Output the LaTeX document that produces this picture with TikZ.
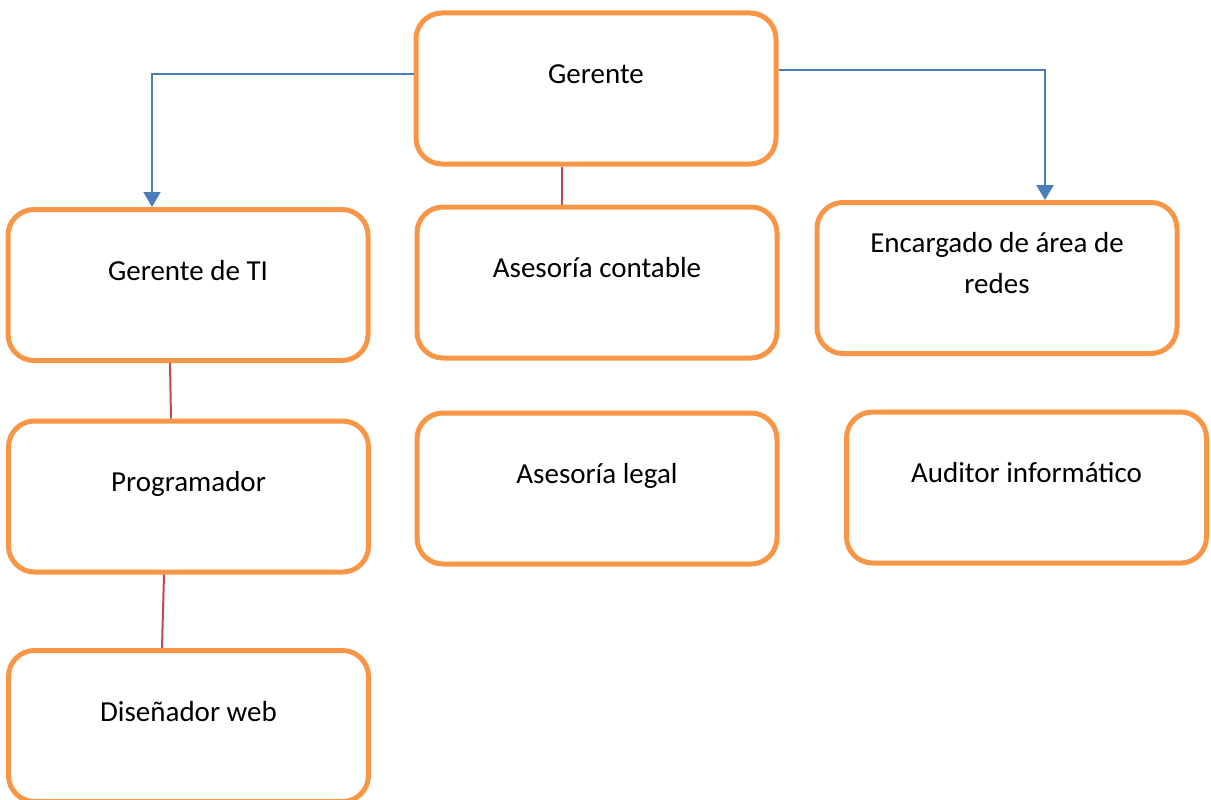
\documentclass[tikz,border=0pt]{standalone}
\usepackage{fontspec}
\setmainfont{Carlito}
\usetikzlibrary{arrows.meta, positioning}
\definecolor{boxorange}{HTML}{F79646}
\definecolor{linkblue}{HTML}{4A7EBB}
\definecolor{linkred}{HTML}{BE4B48}
\tikzset{
    puesto/.style={
        draw=boxorange, line width=5pt, rounded corners=26pt,
        minimum width=360pt, minimum height=151pt, inner sep=0pt
    },
    nombre/.style={font=\fontsize{29}{41}\selectfont, inner sep=0pt, align=center},
    bajaA/.style={draw=linkblue, line width=2pt, -{Triangle[width=17pt,length=15pt]}},
    unionR/.style={draw=linkred, line width=2pt}
}

\begin{document}
\begin{tikzpicture}[x=1pt, y=-1pt]
    \def \base {73}
    \useasboundingbox (0,0) rectangle (1211,800);
    % cajas
    \node[puesto] (ger) at (596, 88.5) {};
    \node[puesto] (gerTI) at (188, 285) {};
    \node[puesto] (asesCont) at (597, 282.5) {};
    \node[puesto] (encRedes) at (997, 278) {};
    \node[puesto] (prog) at (188.5, 496.5) {};
    \node[puesto] (asesLegal) at (597, 488.5) {};
    \node[puesto] (auditor) at (1026.5, 487.5) {};
    \node[puesto] (disWeb) at (188.5, 726) {};
    % textos
    \node[nombre, anchor=base] (gerTxt) at ([yshift=-\base]ger.north) {Gerente};
    \node[nombre, anchor=base] (gerTITxt) at ([yshift=-\base]gerTI.north) {Gerente de TI};
    \node[nombre, anchor=base] (asesContTxt) at ([yshift=-\base]asesCont.north) {Asesoría contable};
    \node[nombre, anchor=north] (encRedesTxt) at ([yshift=-32.5]encRedes.north) {Encargado de área de\\redes};
    \node[nombre, anchor=base] (progTxt) at ([yshift=-\base]prog.north) {Programador};
    \node[nombre, anchor=base] (asesLegalTxt) at ([yshift=-\base]asesLegal.north) {Asesoría legal};
    \node[nombre, anchor=base] (auditorTxt) at ([yshift=-\base]auditor.north) {Auditor informático};
    \node[nombre, anchor=base] (disWebTxt) at ([yshift=-\base]disWeb.north) {Diseñador web};
    % conexiones
    \draw[bajaA] ([yshift=14.5]ger.west) -| ([xshift=-36]gerTI.north);
    \draw[bajaA] ([yshift=18.5]ger.east) -| ([xshift=48]encRedes.north);
    \draw[unionR] ([xshift=-34]ger.south) -- ([xshift=-35]asesCont.north);
    \draw[unionR] ([xshift=-18]gerTI.south) -- ([xshift=-17.5]prog.north);
    \draw[unionR] ([xshift=-24.5]prog.south) -- ([xshift=-26.5]disWeb.north);
\end{tikzpicture}
\end{document}
